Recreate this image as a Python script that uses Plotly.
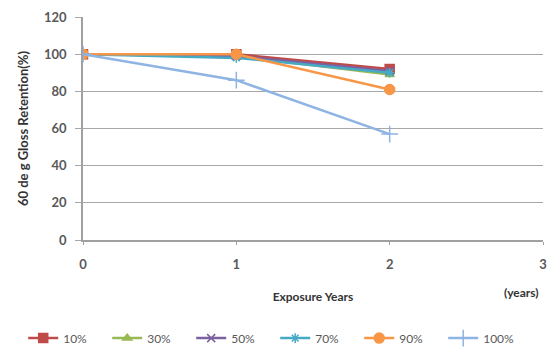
import plotly.graph_objects as go

years = [0, 1, 2]
series_names = ["10%", "30%", "50%", "70%", "90%", "100%"]
s10 = [100, 100, 92]
s30 = [100, 99, 89]
s50 = [100, 99, 91]
s70 = [100, 98, 90]
s90 = [100, 100, 81]
s100 = [100, 86, 57]
y_ticks = [0, 20, 40, 60, 80, 100, 120]
x_ticks = [0, 1, 2, 3]

values = [s10, s30, s50, s70, s90, s100]
colors = ["#BE4B48", "#98B954", "#7D60A0", "#46AAC5", "#F79646", "#8EB4E3"]
symbols = ["square", "triangle-up", "x-thin-open", "asterisk-open", "circle", "cross-thin-open"]
sizes = [9, 8, 8, 8, 10, 12]

fig = go.Figure()
for name, vals, c, sym, sz in zip(series_names, values, colors, symbols, sizes):
    fig.add_trace(go.Scatter(
        x=years, y=vals, name=name, mode="lines+markers",
        line=dict(color=c, width=2.5),
        marker=dict(symbol=sym, size=sz, color=c, line=dict(color=c, width=1.5)),
    ))

font_family = "Lato, Open Sans, sans-serif"
tick_font = dict(size=13, color="#595959", family=font_family, weight="bold")
fig.update_layout(
    width=549, height=354,
    margin=dict(l=83, r=6, t=17, b=114, autoexpand=False),
    paper_bgcolor="white", plot_bgcolor="white",
    font=dict(family=font_family, size=12, color="#404040"),
    showlegend=True,
    legend=dict(orientation="h", x=-0.13, xanchor="left",
                y=-0.44, yanchor="middle",
                font=dict(size=12, color="#595959", family=font_family),
                entrywidth=39, entrywidthmode="pixels", itemwidth=30, tracegroupgap=0),
    xaxis=dict(range=[0, 3], tickvals=x_ticks, showgrid=False, zeroline=False,
               showline=True, linecolor="#A0A0A0", linewidth=1.5,
               ticks="outside", ticklen=3, tickcolor="#A0A0A0", ticklabelstandoff=9,
               tickfont=tick_font,
               title=dict(text="<b>Exposure Years</b>", font=dict(size=12, color="#333333"), standoff=21)),
    yaxis=dict(range=[0, 120], tickvals=y_ticks, showgrid=True, gridcolor="#A8A8A8", gridwidth=1,
               zeroline=False, showline=True, linecolor="#A0A0A0", linewidth=1.5,
               ticks="outside", ticklen=6, tickcolor="#A8A8A8", ticklabelstandoff=6,
               tickfont=tick_font,
               title=dict(text="<b>60 de g Gloss Retention(%)</b>", font=dict(size=13, color="#333333"), standoff=12)),
)
fig.add_annotation(text="<b>(years)</b>", xref="paper", yref="paper", x=0.995, y=-0.235,
                   xanchor="right", yanchor="middle", showarrow=False,
                   font=dict(size=12, color="#333333"))
fig.write_html("out.html", config={"displayModeBar": False},
               post_script="document.body.style.margin='0';document.body.style.padding='0';")
